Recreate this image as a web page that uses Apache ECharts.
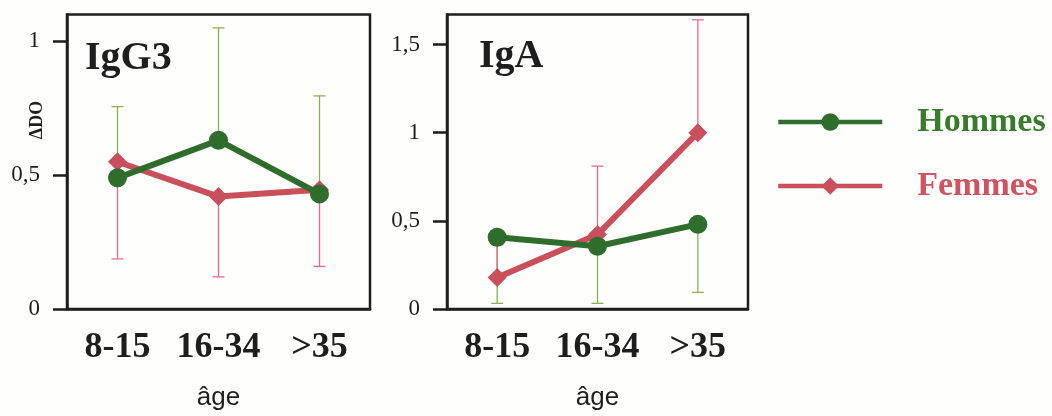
<!DOCTYPE html>
<html>
<head>
<meta charset="utf-8">
<script src="https://cdn.jsdelivr.net/npm/echarts@6/dist/echarts.min.js"></script>
<style>
  html, body { margin: 0; padding: 0; background: #fefefc; }
  #chart { width: 1052px; height: 416px; }
</style>
</head>
<body>
<div id="chart"></div>
<script>
// Age groups (x categories)
const ages = ['8-15', '16-34', '>35'];

// IgG3 : mean ΔDO per age group
const igg3Hommes = [0.49, 0.63, 0.43];
const igg3Femmes = [0.55, 0.42, 0.445];
// IgG3 : error bar ends (men upward, women downward)
const igg3HommesErrEnd = [0.756, 1.05, 0.796];
const igg3FemmesErrEnd = [0.187, 0.12, 0.159];

// IgA : mean ΔDO per age group
const igaHommes = [0.407, 0.356, 0.48];
const igaFemmes = [0.178, 0.422, 1.0];
// IgA : error bar ends (men downward, women upward)
const igaHommesErrEnd = [0.032, 0.032, 0.094];
const igaFemmesErrEnd = [0.364, 0.81, 1.64];

// Y tick values
const igg3Ticks = [0, 0.5, 1];
const igaTicks = [0, 0.5, 1, 1.5];

const GREEN = '#2f6d2c';
const RED = '#c94f5b';
const GREEN_BAR = '#86b351';
const RED_BAR = '#ea6a88';
const INK = '#1e1e1e';

const commaFmt = v => String(v).replace('.', ',');

function errorSeries(idx, means, ends, color) {
  return {
    type: 'custom',
    xAxisIndex: idx,
    yAxisIndex: idx,
    z: 1,
    silent: true,
    data: means.map((m, i) => [i, m, ends[i]]),
    encode: { x: 0, y: [1, 2] },
    renderItem(params, api) {
      const p0 = api.coord([api.value(0), api.value(1)]);
      const p1 = api.coord([api.value(0), api.value(2)]);
      const hw = 6;
      const style = { stroke: color, lineWidth: 1.3 };
      return {
        type: 'group',
        children: [
          { type: 'line', shape: { x1: p0[0], y1: p0[1], x2: p1[0], y2: p1[1] }, style },
          { type: 'line', shape: { x1: p1[0] - hw, y1: p1[1], x2: p1[0] + hw, y2: p1[1] }, style }
        ]
      };
    }
  };
}

function lineSeries(name, idx, data, color, symbol, z) {
  return {
    name,
    type: 'line',
    xAxisIndex: idx,
    yAxisIndex: idx,
    data,
    symbol,
    symbolSize: 19,
    showSymbol: true,
    z,
    lineStyle: { color, width: 6 },
    itemStyle: { color },
    emphasis: { disabled: true }
  };
}

function xAxisFor(i) {
  return {
    type: 'category',
    gridIndex: i,
    data: ages,
    boundaryGap: true,
    axisLine: { lineStyle: { color: INK, width: 2.5 } },
    axisTick: { alignWithLabel: true, length: 16, lineStyle: { color: INK, width: 2.5 } },
    axisLabel: {
      interval: 0,
      hideOverlap: false,
      fontFamily: 'Liberation Serif', fontWeight: 'bold', fontSize: 36,
      color: INK, margin: 21
    },
    name: 'âge',
    nameLocation: 'middle',
    nameGap: 76,
    nameTextStyle: { fontFamily: 'Liberation Sans', fontSize: 26, color: INK }
  };
}

function yAxisFor(i, max, ticks) {
  return {
    type: 'value',
    gridIndex: i,
    min: 0,
    max,
    interval: 0.5,
    splitLine: { show: false },
    axisLine: { show: true, lineStyle: { color: INK, width: 2.5 } },
    axisTick: { show: true, length: 14, customValues: ticks, lineStyle: { color: INK, width: 2.5 } },
    axisLabel: {
      customValues: ticks,
      formatter: commaFmt,
      fontFamily: 'Liberation Serif', fontSize: 23, color: INK, margin: 27
    }
  };
}

const chart = echarts.init(document.getElementById('chart'), null, { renderer: 'canvas' });

chart.setOption({
  animation: false,
  backgroundColor: '#fefefc',
  title: [
    { text: 'IgG3', left: 85, top: 39, padding: 0,
      textStyle: { fontFamily: 'Liberation Serif', fontWeight: 'bold', fontSize: 40, color: INK } },
    { text: 'IgA', left: 479, top: 37, padding: 0,
      textStyle: { fontFamily: 'Liberation Serif', fontWeight: 'bold', fontSize: 40, color: INK } }
  ],
  legend: {
    orient: 'vertical',
    left: 776,
    top: 105,
    padding: 0,
    itemWidth: 104,
    itemHeight: 22,
    itemGap: 30,
    lineStyle: { width: 4.5 },
    data: [
      { name: 'Hommes', textStyle: { color: '#3a7a2c' } },
      { name: 'Femmes', textStyle: { color: '#cf5360' } }
    ],
    textStyle: {
      fontFamily: 'Liberation Serif', fontWeight: 'bold', fontSize: 34,
      padding: [0, 0, 0, 30]
    }
  },
  graphic: [
    {
      type: 'text',
      x: 37, y: 120,
      rotation: Math.PI / 2,
      style: {
        text: 'ΔDO', fill: INK,
        font: 'bold 18px "Liberation Serif"',
        align: 'center', verticalAlign: 'middle'
      }
    }
  ],
  grid: [
    { left: 67, top: 14.5, width: 303, height: 299.5, show: true, borderColor: INK, borderWidth: 2.5 },
    { left: 447, top: 14.5, width: 301, height: 299.5, show: true, borderColor: INK, borderWidth: 2.5 }
  ],
  xAxis: [xAxisFor(0), xAxisFor(1)],
  yAxis: [yAxisFor(0, 1.1, igg3Ticks), yAxisFor(1, 1.67, igaTicks)],
  series: [
    errorSeries(0, igg3Hommes, igg3HommesErrEnd, GREEN_BAR),
    errorSeries(0, igg3Femmes, igg3FemmesErrEnd, RED_BAR),
    errorSeries(1, igaHommes, igaHommesErrEnd, GREEN_BAR),
    errorSeries(1, igaFemmes, igaFemmesErrEnd, RED_BAR),
    lineSeries('Femmes', 0, igg3Femmes, RED, 'diamond', 3),
    lineSeries('Hommes', 0, igg3Hommes, GREEN, 'circle', 4),
    lineSeries('Femmes', 1, igaFemmes, RED, 'diamond', 3),
    lineSeries('Hommes', 1, igaHommes, GREEN, 'circle', 4)
  ]
});
</script>
</body>
</html>
